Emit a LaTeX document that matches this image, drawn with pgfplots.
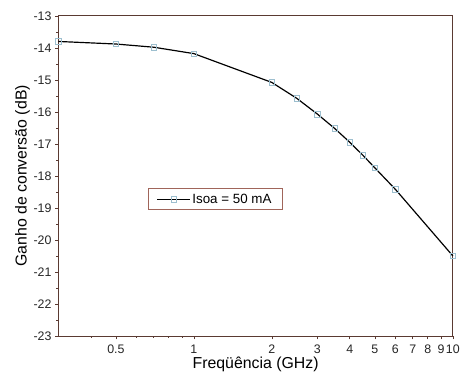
\documentclass[border=0pt]{standalone}
\usepackage{pgfplots}
\pgfplotsset{compat=1.18}
\usepackage{fontspec}
\setmainfont{Liberation Sans}
\definecolor{frame}{HTML}{5A3A32}
\definecolor{lgframe}{HTML}{A0655A}
\definecolor{mk}{HTML}{9DBFCF}
\begin{document}
\begin{tikzpicture}
\begin{axis}[
  scale only axis, width=398bp, height=323bp,
  xmode=log, xmin=0.3, xmax=10, ymin=-23, ymax=-13,
  axis line style={frame, line width=0.8pt},
  xtick={0.5,1,2,3,4,5,6,7,8,9,10},
  xticklabels={0.5,1,2,3,4,5,6,7,8,9,10},
  minor xtick={0.4,0.6,0.7,0.8,0.9},
  ytick={-23,-22,...,-13},
  minor ytick={-22.5,-21.5,...,-13.5},
  tick align=outside, tick pos=left,
  major tick length=3.5pt, minor tick length=2pt,
  every tick/.style={frame, line width=0.6pt},
  tick label style={font=\fontsize{12.5bp}{14bp}\selectfont, text=black!85},
  xticklabel style={yshift=-2bp},
  /pgf/number format/assume math mode=true,
  log ticks with fixed point,
  label style={font=\fontsize{16bp}{18bp}\selectfont},
  xlabel={Freqüência (GHz)},
  ylabel={Ganho de conversão (dB)},
  xlabel style={yshift=3bp},
  ylabel style={yshift=-3bp},
  legend style={at={(rel axis cs:0.226,0.461)}, anchor=north west,
    draw=lgframe, line width=0.8pt, font=\fontsize{13.5bp}{15bp}\selectfont,
    inner xsep=9bp, inner ysep=3bp},
  legend image code/.code={
    \draw[#1, mark=none] (0cm,0cm) -- (1.15cm,0cm);
    \path[#1, only marks] plot coordinates {(0.575cm,0cm)};
  },
  legend cell align=left,
  clip=false,
]
\addplot[black, line width=1.2pt, mark=square, mark size=2.8pt,
  mark options={draw=mk, fill=white, line width=0.7pt, solid}]
 coordinates {
 (0.3,-13.80) (0.5,-13.88) (0.7,-13.98) (1.0,-14.18) (2.0,-15.08)
 (2.5,-15.58) (3.0,-16.07) (3.5,-16.52) (4.0,-16.95) (4.5,-17.36)
 (5.0,-17.75) (6.0,-18.42) (10.0,-20.50)
 };
\addlegendentry{Isoa = 50 mA}
\end{axis}
\path (current axis.south west) ++(-59bp,-42bp) coordinate (bl);
\path (current axis.north east) ++(6bp,16bp) coordinate (tr);
\path[use as bounding box] (bl) rectangle (tr);
\end{tikzpicture}
\end{document}
